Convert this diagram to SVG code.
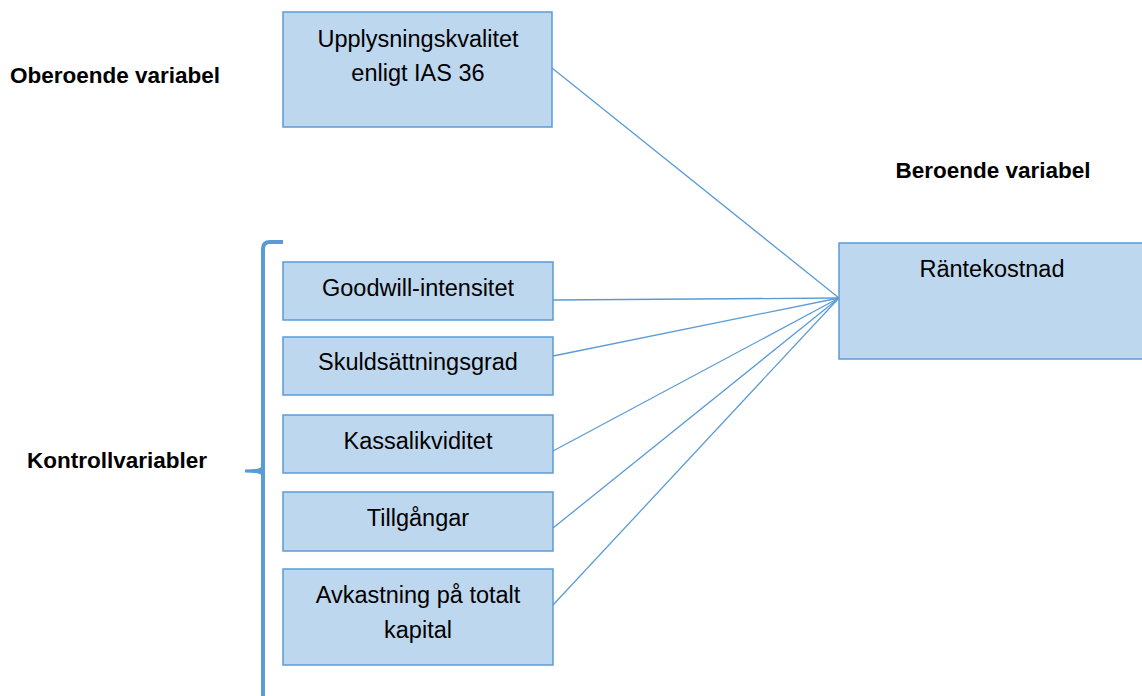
<svg xmlns="http://www.w3.org/2000/svg" width="1142" height="696" viewBox="0 0 1142 696">
<style>
.box{fill:#BDD7EE;stroke:#5B9BD5;stroke-width:1.5}
.t{font-family:"Liberation Sans",Arial,sans-serif;font-size:23.5px;fill:#000;text-anchor:middle}
.lbl{font-family:"Liberation Sans",Arial,sans-serif;font-size:22.5px;font-weight:bold;fill:#000}
.ln{stroke:#5B9BD5;stroke-width:1.3;fill:none}
</style>
<rect width="1142" height="696" fill="#fff"/>
<text class="lbl" x="10" y="83">Oberoende variabel</text>
<text class="lbl" x="993" y="178" text-anchor="middle">Beroende variabel</text>
<text class="lbl" x="27" y="468">Kontrollvariabler</text>
<g id="brace">
<path d="M283,242 L270,242 Q263,242 263,249 L263,696" fill="none" stroke="#5B9BD5" stroke-width="4"/>
<path d="M245,471 Q263,471 263,466 L263,476 Q263,471 245,471 Z" fill="#5B9BD5" stroke="#5B9BD5" stroke-width="3"/>
</g>
<g id="connectors">
<line class="ln" x1="552" y1="68" x2="839" y2="298"/>
<line class="ln" x1="553" y1="300" x2="839" y2="298"/>
<line class="ln" x1="553" y1="356" x2="839" y2="298"/>
<line class="ln" x1="553" y1="451" x2="839" y2="298"/>
<line class="ln" x1="553" y1="528" x2="839" y2="298"/>
<line class="ln" x1="553" y1="605" x2="839" y2="298"/>
</g>
<g id="n-upplysning">
<rect class="box" x="283" y="12" width="269" height="115"/>
<text class="t" x="418" y="47">Upplysningskvalitet</text>
<text class="t" x="418" y="81">enligt IAS 36</text>
</g>
<g id="n-goodwill">
<rect class="box" x="283" y="262" width="270" height="58"/>
<text class="t" x="418" y="296">Goodwill-intensitet</text>
</g>
<g id="n-skuld">
<rect class="box" x="283" y="337" width="270" height="58"/>
<text class="t" x="418" y="370">Skuldsättningsgrad</text>
</g>
<g id="n-kassa">
<rect class="box" x="283" y="415" width="270" height="58"/>
<text class="t" x="418" y="449">Kassalikviditet</text>
</g>
<g id="n-tillg">
<rect class="box" x="283" y="492" width="270" height="59"/>
<text class="t" x="418" y="526">Tillgångar</text>
</g>
<g id="n-avk">
<rect class="box" x="283" y="569" width="270" height="96"/>
<text class="t" x="418" y="603">Avkastning på totalt</text>
<text class="t" x="418" y="638">kapital</text>
</g>
<g id="n-rante">
<rect class="box" x="839" y="243" width="310" height="116"/>
<text class="t" x="992" y="277">Räntekostnad</text>
</g>
</svg>
